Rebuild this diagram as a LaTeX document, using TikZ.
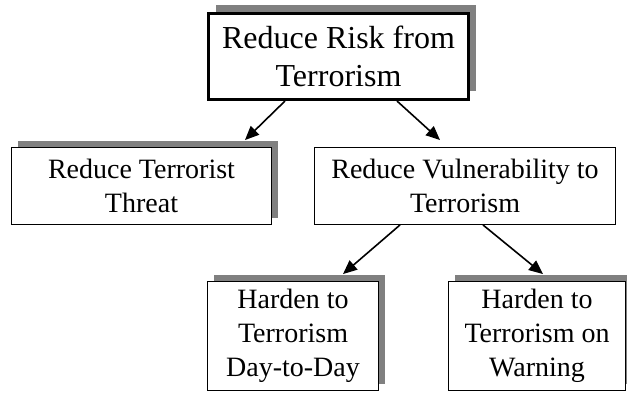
\documentclass[tikz,border=0pt]{standalone}
\usepackage{fontspec}
\setmainfont{Liberation Serif}
\usetikzlibrary{arrows.meta, shadows}

\begin{document}
\begin{tikzpicture}[x=1pt, y=-1pt,
      box/.style={draw=black, line width=0.9pt, fill=white, align=center,
        inner sep=0pt, font=\fontsize{28}{34}\selectfont},
      shbox/.style={box, drop shadow={shadow xshift=6pt, shadow yshift=7pt,
        fill=black!50, opacity=1}},
      arr/.style={-{Triangle[length=14pt,width=12pt]}, line width=1.6pt}]
      \useasboundingbox (0,0) rectangle (627,392);
      \node[box, line width=3pt, minimum width=260pt, minimum height=86pt,
        font=\fontsize{32}{38}\selectfont,
        drop shadow={shadow xshift=7pt, shadow yshift=9pt, fill=black!50, opacity=1}]
        (risk) at (338.5,56.5) {Reduce Risk from\\Terrorism};
      \node[shbox, minimum width=260pt, minimum height=77pt] (threat) at (141.5,186) {Reduce Terrorist\\Threat};
      \node[box, minimum width=301pt, minimum height=77pt] (vuln) at (465,186) {Reduce Vulnerability to\\Terrorism};
      \node[shbox, minimum width=171pt, minimum height=109pt] (day) at (293,336) {Harden to\\Terrorism\\Day-to-Day};
      \node[shbox, minimum width=177pt, minimum height=109pt] (warn) at (537,336) {Harden to\\Terrorism on\\Warning};
      % \node[box] at (vuln.south) {};
      \draw[arr] ([xshift=-53.5pt]risk.south) -- ([xshift=103.5pt, yshift=7pt]threat.north);
      \draw[arr] ([xshift=58.5pt]risk.south) -- ([xshift=-25pt, yshift=7pt]vuln.north);
      \draw[arr] ([xshift=-65pt]vuln.south) -- ([xshift=50pt, yshift=7pt]day.north);
      \draw[arr] ([xshift=18pt]vuln.south) -- ([xshift=6pt, yshift=7pt]warn.north);
    \end{tikzpicture}
\end{document}
